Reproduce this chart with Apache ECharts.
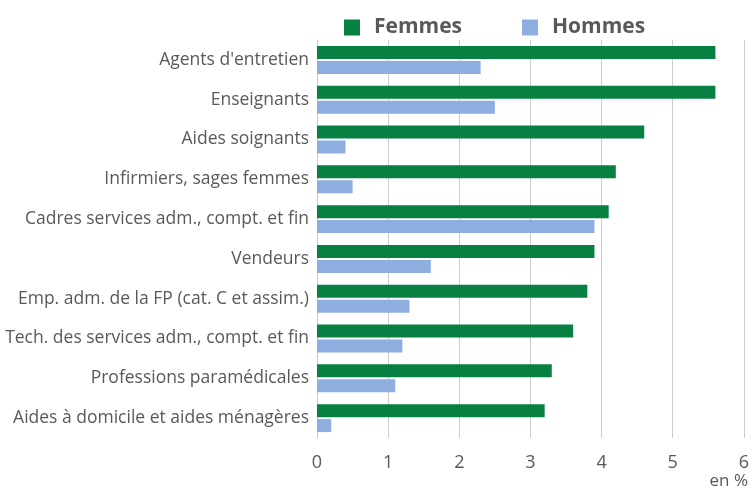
<!DOCTYPE html>
<html>
<head>
<meta charset="utf-8">
<script src="https://cdn.jsdelivr.net/npm/echarts@6/dist/echarts.min.js"></script>
<style>
  html, body { margin: 0; padding: 0; background: #fff; }
  #chart { width: 752px; height: 489px; }
</style>
</head>
<body>
<div id="chart"></div>
<script>
const categories = [
  "Agents d'entretien",
  'Enseignants',
  'Aides soignants',
  'Infirmiers, sages femmes',
  'Cadres services adm., compt. et fin',
  'Vendeurs',
  'Emp. adm. de la FP (cat. C et assim.)',
  'Tech. des services adm., compt. et fin',
  'Professions paramédicales',
  'Aides à domicile et aides ménagères'
];
const femmes = [5.6, 5.6, 4.6, 4.2, 4.1, 3.9, 3.8, 3.6, 3.3, 3.2];
const hommes = [2.3, 2.5, 0.4, 0.5, 3.9, 1.6, 1.3, 1.2, 1.1, 0.2];

const textColor = '#595959';
const font = '"Open Sans", sans-serif';

const chart = echarts.init(document.getElementById('chart'));
chart.setOption({
  animation: false,
  textStyle: { fontFamily: font },
  legend: {
    top: 12,
    left: 339,
    itemWidth: 16,
    itemHeight: 16,
    itemGap: 60,
    icon: 'rect',
    textStyle: { fontSize: 21, fontWeight: 'bold', color: textColor, fontFamily: font, padding: [0, 0, 0, 9] },
    data: ['Femmes', 'Hommes']
  },
  grid: { left: 317, right: 5, top: 40, bottom: 51 },
  xAxis: {
    type: 'value',
    min: 0,
    max: 6,
    interval: 1,
    axisLine: { show: false },
    axisTick: { show: false },
    axisLabel: { color: textColor, fontSize: 18, margin: 16, fontFamily: font },
    splitLine: { lineStyle: { color: '#cccccc', width: 1 } }
  },
  yAxis: {
    type: 'category',
    inverse: true,
    data: categories,
    axisLine: { show: true, lineStyle: { color: '#c8c8c8' } },
    axisTick: { show: false },
    axisLabel: { color: textColor, fontSize: 17.5, margin: 8, fontFamily: font, padding: [3, 0, 0, 0] }
  },
  series: [
    {
      name: 'Femmes',
      type: 'bar',
      data: femmes,
      barWidth: 13,
      barGap: '15%',
      itemStyle: { color: '#078042' }
    },
    {
      name: 'Hommes',
      type: 'bar',
      data: hommes,
      barWidth: 13,
      itemStyle: { color: '#8faee0' }
    }
  ],
  graphic: [
    {
      type: 'text',
      right: 4,
      top: 473,
      style: { text: 'en %', fill: textColor, fontSize: 17, fontFamily: font }
    }
  ]
});
</script>
</body>
</html>
